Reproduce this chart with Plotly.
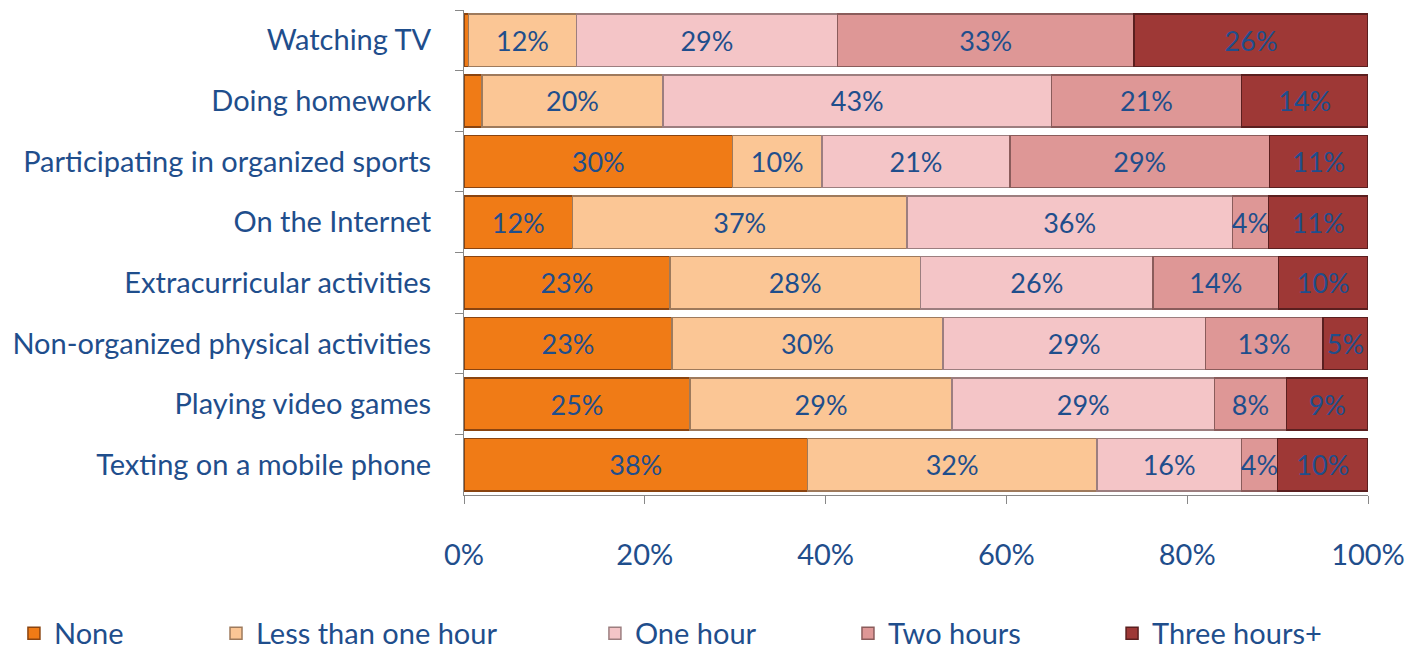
import plotly.graph_objects as go

categories = ["Watching TV", "Doing homework", "Participating in organized sports",
              "On the Internet", "Extracurricular activities",
              "Non-organized physical activities", "Playing video games",
              "Texting on a mobile phone"]
series_names = ["None", "Less than one hour", "One hour", "Two hours", "Three hours+"]
none_vals = [0.5, 2, 30, 12, 23, 23, 25, 38]
less_vals = [12, 20, 10, 37, 28, 30, 29, 32]
one_vals = [29, 43, 21, 36, 26, 29, 29, 16]
two_vals = [33, 21, 29, 4, 14, 13, 8, 4]
three_vals = [26, 14, 11, 11, 10, 5, 9, 10]
none_labels = ["", "", "30%", "12%", "23%", "23%", "25%", "38%"]
tick_vals = [0, 20, 40, 60, 80, 100]
tick_text = ["0%", "20%", "40%", "60%", "80%", "100%"]

colors = ["#F07B16", "#FBC695", "#F4C5C7", "#DE9796", "#9E3836"]
line_colors = ["#8A4410", "#9E7A5C", "#9C7E7F", "#8A5C5B", "#5A1F1F"]
legend_x = [0.0042, 0.1469, 0.4145, 0.5932, 0.7797]

FONT = "Lato, 'Open Sans', sans-serif"
TXT = "#1F4E8C"

all_vals = [none_vals, less_vals, one_vals, two_vals, three_vals]
fig = go.Figure()
for i, (name, vals) in enumerate(zip(series_names, all_vals)):
    if i == 0:
        labels = none_labels
    else:
        labels = [f"{v:g}%" for v in vals]
    lg = "legend" if i == 0 else f"legend{i+1}"
    fig.add_trace(go.Bar(
        y=categories, x=vals, name=name, orientation="h",
        marker=dict(color=colors[i], line=dict(color=line_colors[i], width=1.5)),
        text=labels, textposition="inside", insidetextanchor="middle",
        constraintext="none", textangle=0,
        textfont=dict(color=TXT, size=27, family=FONT),
        hoverinfo="skip", legend=lg,
    ))

layout_legends = {}
for i in range(5):
    key = "legend" if i == 0 else f"legend{i+1}"
    layout_legends[key] = dict(
        x=legend_x[i], y=0.035, xref="container", yref="container",
        xanchor="left", yanchor="middle", orientation="h",
        font=dict(size=29, color=TXT, family=FONT), bgcolor="rgba(0,0,0,0)",
        itemwidth=30,
    )

fig.update_layout(
    barmode="stack", barnorm="percent", bargap=0.14,
    width=1416, height=648,
    margin=dict(l=456, r=56, t=2, b=161),
    paper_bgcolor="white", plot_bgcolor="white",
    font=dict(family=FONT, color=TXT, size=29),
    showlegend=True,
    xaxis=dict(range=[0, 100], tickvals=tick_vals, ticktext=tick_text,
               showgrid=False, zeroline=False, showline=True, linecolor="#888888",
               linewidth=1, ticks="outside", ticklen=8, tickcolor="#888888",
               ticklabelstandoff=26,
               tickfont=dict(size=29, color=TXT, family=FONT)),
    yaxis=dict(autorange="reversed", showgrid=False, showline=True,
               linecolor="#888888", linewidth=1, ticks="outside", ticklen=8,
               tickcolor="#888888", tickson="boundaries", ticklabelstandoff=26,
               tickfont=dict(size=29, color=TXT, family=FONT)),
    **layout_legends,
)

fig.write_html("out.html")
